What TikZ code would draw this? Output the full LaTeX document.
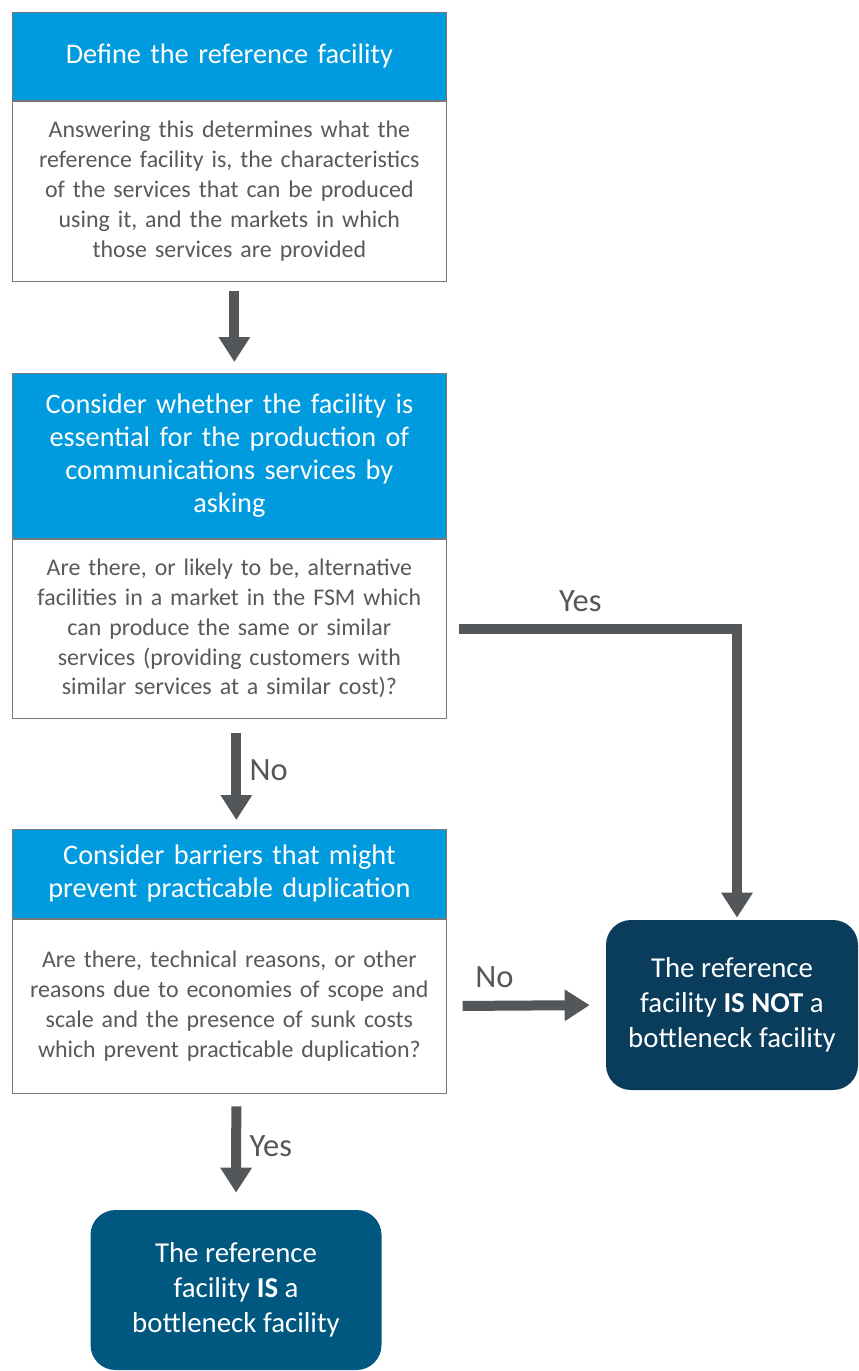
\documentclass[tikz,border=0pt]{standalone}
\usepackage{fontspec}
\setmainfont{Carlito}
\usetikzlibrary{positioning,arrows.meta}

\definecolor{headblue}{RGB}{0,155,222}
\definecolor{darknavy}{RGB}{10,60,92}
\definecolor{petrol}{RGB}{0,88,128}
\definecolor{arrowgrey}{RGB}{83,87,90}
\definecolor{textgrey}{RGB}{89,89,89}
\definecolor{boxline}{RGB}{120,120,120}

\tikzset{
  headbox/.style={draw=boxline, fill=headblue, text=white, text width=8.3cm,
    inner xsep=0.19cm, inner ysep=0pt, align=center,
    font={\fontsize{16.1}{18.8}\selectfont}},
  askbox/.style={draw=boxline, fill=white, text=textgrey, text width=8.3cm,
    inner xsep=0.19cm, inner ysep=0pt, align=center,
    font={\fontsize{13.6}{17}\selectfont}},
  verdict/.style={rounded corners=0.5cm, text=white, align=center, inner sep=0pt,
    font={\fontsize{16.4}{19.9}\selectfont}},
  flowarrow/.style={draw=arrowgrey, line width=0.2cm,
    -{Triangle[width=0.6cm,length=0.5cm]}},
  flowlabel/.style={text=arrowgrey, font={\fontsize{18.5}{18.5}\selectfont}}
}

\begin{document}
\begin{tikzpicture}

\useasboundingbox (0,0) rectangle (17.16,-27.42);

% step 1
\node [headbox, anchor=north west, minimum height=1.76cm] (define-head)
 at (0.24,-0.24) {Define the reference facility};
\node [askbox, below=0pt of define-head, minimum height=3.6cm] (define-body) {
Answering this determines what the\\
reference facility is, the characteristics\\
of the services that can be produced\\
using it, and the markets in which\\
those services are provided};

% step 2
\node [headbox, anchor=north west, minimum height=3.3cm] (essential-head)
 at (0.24,-7.46) {Consider whether the facility is\\
essential for the production of\\
communications services by\\
asking};
\node [askbox, below=0pt of essential-head, minimum height=3.58cm] (essential-body) {
Are there, or likely to be, alternative\\
facilities in a market in the FSM which\\
can produce the same or similar\\
services (providing customers with\\
similar services at a similar cost)?};

% step 3
\node [headbox, anchor=north west, minimum height=1.78cm] (barrier-head)
 at (0.24,-16.58) {Consider barriers that might\\
prevent practicable duplication};
\node [askbox, below=0pt of barrier-head, minimum height=3.48cm] (barrier-body) {
Are there, technical reasons, or other\\
reasons due to economies of scope and\\
scale and the presence of sunk costs\\
which prevent practicable duplication?};

% outcomes
\node [verdict, fill=darknavy, minimum width=5.04cm, minimum height=3.4cm] (not-bottleneck)
 at (14.64,-20.1) {The reference\\
facility \textbf{IS NOT} a\\
bottleneck facility};
\node [verdict, fill=petrol, minimum width=5.82cm, minimum height=3.2cm] (is-bottleneck)
 at (4.72,-25.8) {The reference\\
facility \textbf{IS} a\\
bottleneck facility};

% connectors
\draw [flowarrow, shorten <=0.2cm, shorten >=0.22cm]
 ([xshift=0.1cm]define-body.south) -- ([xshift=0.1cm]essential-head.north);
\draw [flowarrow, shorten <=0.24cm, shorten >=0.04cm]
 (essential-body.east) -| node [flowlabel, pos=0.23, above=0.12cm] {Yes}
 ([xshift=0.1cm]not-bottleneck.north);
\draw [flowarrow, shorten <=0.3cm, shorten >=0.18cm]
 ([xshift=0.14cm]essential-body.south) -- node [flowlabel, right=0.05cm, pos=0.47] {No}
 ([xshift=0.14cm]barrier-head.north);
\draw [flowarrow, shorten <=0.32cm, shorten >=0.32cm]
 (barrier-body.east) -- node [flowlabel, pos=0.3, above=0.15cm] {No} (not-bottleneck.west);
\draw [flowarrow, shorten <=0.26cm, shorten >=0.34cm]
 ([xshift=0.14cm]barrier-body.south) -- node [flowlabel, right=0.05cm, pos=0.45] {Yes}
 (is-bottleneck.north);

\end{tikzpicture}
\end{document}
